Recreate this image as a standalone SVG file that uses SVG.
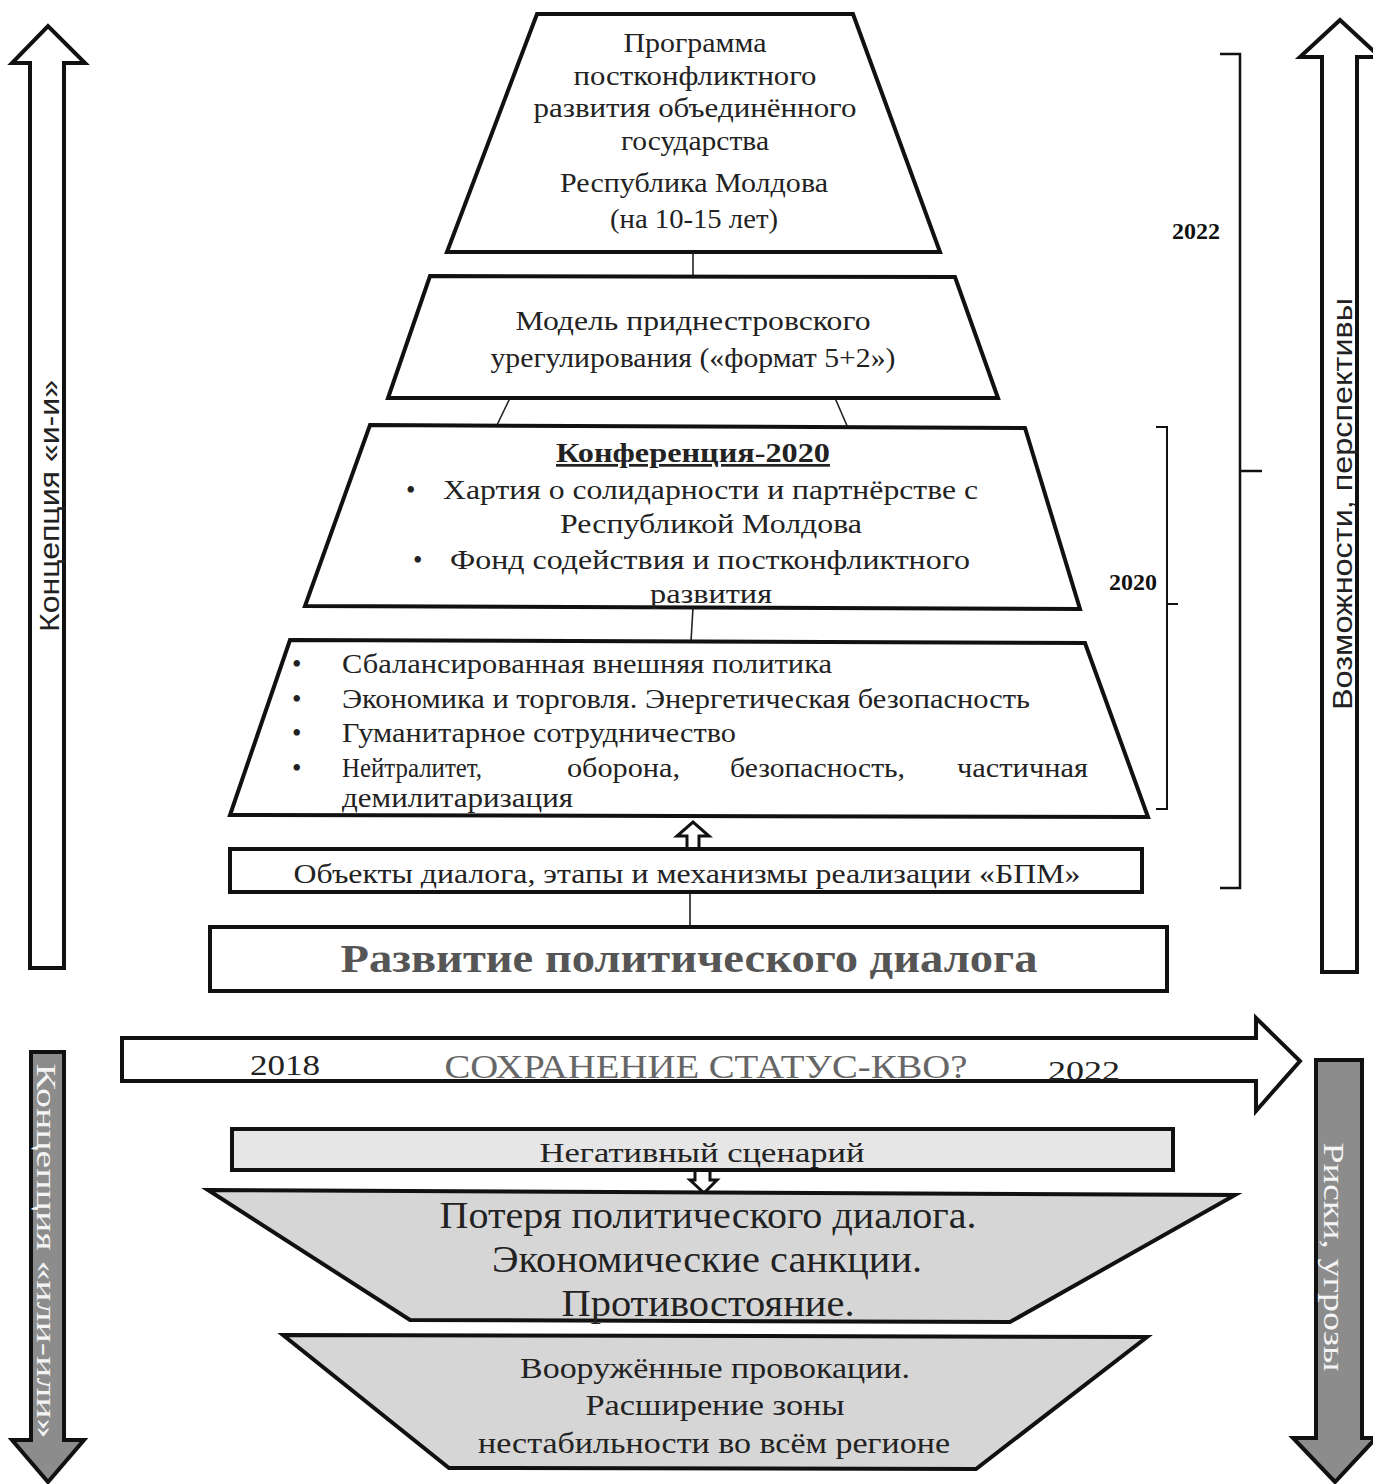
<svg xmlns="http://www.w3.org/2000/svg" width="1373" height="1484" viewBox="0 0 1373 1484">
<style>
.shape{fill:#fff;stroke:#111;stroke-width:4;stroke-linejoin:miter}
.gshape{fill:#d6d6d6;stroke:#111;stroke-width:4}
.garrow{fill:#8c8c8c;stroke:#111;stroke-width:4}
.line{stroke:#222;stroke-width:1.6;fill:none}
.br{stroke:#111;stroke-width:2.5;fill:none}
.t{font-family:"Liberation Serif","DejaVu Serif",serif;fill:#222;font-size:27px}
.c{text-anchor:middle}
.sans{font-family:"Liberation Sans","DejaVu Sans",sans-serif;fill:#222;font-size:28px}
.yr{font-family:"Liberation Serif","DejaVu Serif",serif;font-weight:bold;font-size:24px;fill:#111}
.w{fill:#f4f4f4}
</style>
<rect width="1373" height="1484" fill="#fff"/>

<g id="arrow-left-up">
<polygon class="shape" points="30,968 30,63 12,63 48,26 85,63 64,63 64,968"/>
<text class="sans c" transform="translate(59,506) rotate(-90)" textLength="252" lengthAdjust="spacingAndGlyphs">Концепция «и-и»</text>
</g>
<g id="arrow-right-up">
<polygon class="shape" points="1322,972 1322,57 1300,57 1340,20 1380,57 1357,57 1357,972"/>
<text class="sans c" transform="translate(1352,504) rotate(-90)" textLength="412" lengthAdjust="spacingAndGlyphs">Возможности,  перспективы</text>
</g>
<g id="arrow-left-down">
<polygon class="garrow" points="31,1052 64,1052 64,1440 84,1440 48,1482 12,1440 31,1440"/>
<text class="t c w" transform="translate(37,1251) rotate(90)" style="font-size:28px" textLength="375" lengthAdjust="spacingAndGlyphs">Концепция «или-или»</text>
</g>
<g id="arrow-right-down">
<polygon class="garrow" points="1316,1060 1362,1060 1362,1438 1376,1438 1335,1482 1293,1438 1316,1438"/>
<text class="t c w" transform="translate(1324,1257) rotate(90)" style="font-size:30px" textLength="229" lengthAdjust="spacingAndGlyphs">Риски, угрозы</text>
</g>

<g id="connectors">
<line class="line" x1="693" y1="252" x2="693" y2="276"/>
<line class="line" x1="510" y1="398" x2="497" y2="425"/>
<line class="line" x1="835" y1="398" x2="848" y2="428"/>
<line class="line" x1="693" y1="608" x2="691" y2="641"/>
<line class="line" x1="690" y1="892" x2="690" y2="927"/>
<polygon class="shape" style="stroke-width:3" points="687,849 687,836 677,836 693,822 709,836 699,836 699,849"/>
<polygon class="shape" style="stroke-width:3" points="695,1170 710,1170 710,1180 717,1180 704,1193 690,1180 695,1180"/>
</g>

<g id="brackets">
<path class="br" d="M1220,54 H1240 V888 H1220 M1240,471 H1262"/>
<path class="br" style="stroke-width:2" d="M1156,427 H1167 V809 H1156 M1167,604 H1178"/>
<text class="yr c" x="1196" y="239">2022</text>
<text class="yr c" x="1133" y="590">2020</text>
</g>

<g id="node-program">
<polygon class="shape" points="537,14 853,14 940,252 447,252"/>
<text class="t c" x="695" y="52" textLength="143" lengthAdjust="spacingAndGlyphs">Программа</text>
<text class="t c" x="695" y="85" textLength="243" lengthAdjust="spacingAndGlyphs">постконфликтного</text>
<text class="t c" x="695" y="117" textLength="323" lengthAdjust="spacingAndGlyphs">развития объединённого</text>
<text class="t c" x="695" y="150" textLength="148" lengthAdjust="spacingAndGlyphs">государства</text>
<text class="t c" x="694" y="192" textLength="268" lengthAdjust="spacingAndGlyphs">Республика Молдова</text>
<text class="t c" x="694" y="228" textLength="168" lengthAdjust="spacingAndGlyphs">(на 10-15 лет)</text>
</g>

<g id="node-model">
<polygon class="shape" points="430,276 955,277 998,398 388,398"/>
<text class="t c" x="693" y="330" textLength="355" lengthAdjust="spacingAndGlyphs">Модель приднестровского</text>
<text class="t c" x="693" y="367" textLength="405" lengthAdjust="spacingAndGlyphs">урегулирования («формат 5+2»)</text>
</g>

<g id="node-conference">
<polygon class="shape" points="370,425 1025,428 1080,609 305,606"/>
<text class="t c" x="693" y="462" style="font-weight:bold;text-decoration:underline" textLength="274" lengthAdjust="spacingAndGlyphs">Конференция-2020</text>
<text class="t" x="406" y="499">•</text>
<text class="t" x="443" y="499" textLength="535" lengthAdjust="spacingAndGlyphs">Хартия о солидарности и партнёрстве с</text>
<text class="t" x="560" y="533" textLength="302" lengthAdjust="spacingAndGlyphs">Республикой Молдова</text>
<text class="t" x="413" y="569">•</text>
<text class="t" x="450" y="569" textLength="520" lengthAdjust="spacingAndGlyphs">Фонд содействия и постконфликтного</text>
<text class="t" x="650" y="603" textLength="122" lengthAdjust="spacingAndGlyphs">развития</text>
</g>

<g id="node-directions">
<polygon class="shape" points="290,640 1085,643 1148,817 230,815"/>
<text class="t" x="292" y="673">•</text>
<text class="t" x="342" y="673" textLength="490" lengthAdjust="spacingAndGlyphs">Сбалансированная внешняя политика</text>
<text class="t" x="292" y="708">•</text>
<text class="t" x="342" y="708" textLength="688" lengthAdjust="spacingAndGlyphs">Экономика и торговля. Энергетическая безопасность</text>
<text class="t" x="292" y="742">•</text>
<text class="t" x="342" y="742" textLength="394" lengthAdjust="spacingAndGlyphs">Гуманитарное сотрудничество</text>
<text class="t" x="292" y="777">•</text>
<text class="t" y="777"><tspan x="342" textLength="140" lengthAdjust="spacingAndGlyphs">Нейтралитет,</tspan><tspan x="567" textLength="113" lengthAdjust="spacingAndGlyphs">оборона,</tspan><tspan x="730" textLength="175" lengthAdjust="spacingAndGlyphs">безопасность,</tspan><tspan x="957" textLength="131" lengthAdjust="spacingAndGlyphs">частичная</tspan></text>
<text class="t" x="342" y="807" textLength="231" lengthAdjust="spacingAndGlyphs">демилитаризация</text>
</g>

<g id="node-objects">
<rect class="shape" x="230" y="849" width="912" height="43"/>
<text class="t c" x="687" y="883" textLength="787" lengthAdjust="spacingAndGlyphs">Объекты диалога, этапы и механизмы реализации «БПМ»</text>
</g>

<g id="node-dialog">
<rect class="shape" x="210" y="927" width="957" height="64"/>
<text class="t c" x="689" y="972" style="font-size:40px;font-weight:bold;fill:#555" textLength="697" lengthAdjust="spacingAndGlyphs">Развитие политического диалога</text>
</g>

<g id="arrow-status-quo">
<polygon class="shape" points="122,1038 1256,1038 1256,1018 1300,1061 1256,1111 1256,1081 122,1081"/>
<text class="t" x="250" y="1075" style="font-size:30px" textLength="70" lengthAdjust="spacingAndGlyphs">2018</text>
<text class="t c" x="706" y="1078" style="font-size:34px;fill:#666" textLength="523" lengthAdjust="spacingAndGlyphs">СОХРАНЕНИЕ СТАТУС-КВО?</text>
<text class="t" x="1048" y="1080" style="font-size:28px" textLength="72" lengthAdjust="spacingAndGlyphs">2022</text>
</g>

<g id="node-negative">
<rect class="gshape" style="fill:#e6e6e6" x="232" y="1129" width="941" height="41"/>
<text class="t c" x="702" y="1162" style="font-size:28px" textLength="325" lengthAdjust="spacingAndGlyphs">Негативный сценарий</text>
</g>

<g id="node-loss">
<polygon class="gshape" points="208,1190 1235,1195 1010,1322 410,1320"/>
<text class="t c" x="708" y="1228" style="font-size:38px" textLength="537" lengthAdjust="spacingAndGlyphs">Потеря политического диалога.</text>
<text class="t c" x="707" y="1272" style="font-size:38px" textLength="430" lengthAdjust="spacingAndGlyphs">Экономические санкции.</text>
<text class="t c" x="708" y="1316" style="font-size:38px" textLength="293" lengthAdjust="spacingAndGlyphs">Противостояние.</text>
</g>

<g id="node-provocations">
<polygon class="gshape" points="283,1335 1147,1337 976,1469 449,1468"/>
<text class="t c" x="715" y="1378" style="font-size:30px" textLength="390" lengthAdjust="spacingAndGlyphs">Вооружённые провокации.</text>
<text class="t c" x="715" y="1415" style="font-size:30px" textLength="259" lengthAdjust="spacingAndGlyphs">Расширение зоны</text>
<text class="t c" x="714" y="1453" style="font-size:30px" textLength="472" lengthAdjust="spacingAndGlyphs">нестабильности во всём регионе</text>
</g>
</svg>
